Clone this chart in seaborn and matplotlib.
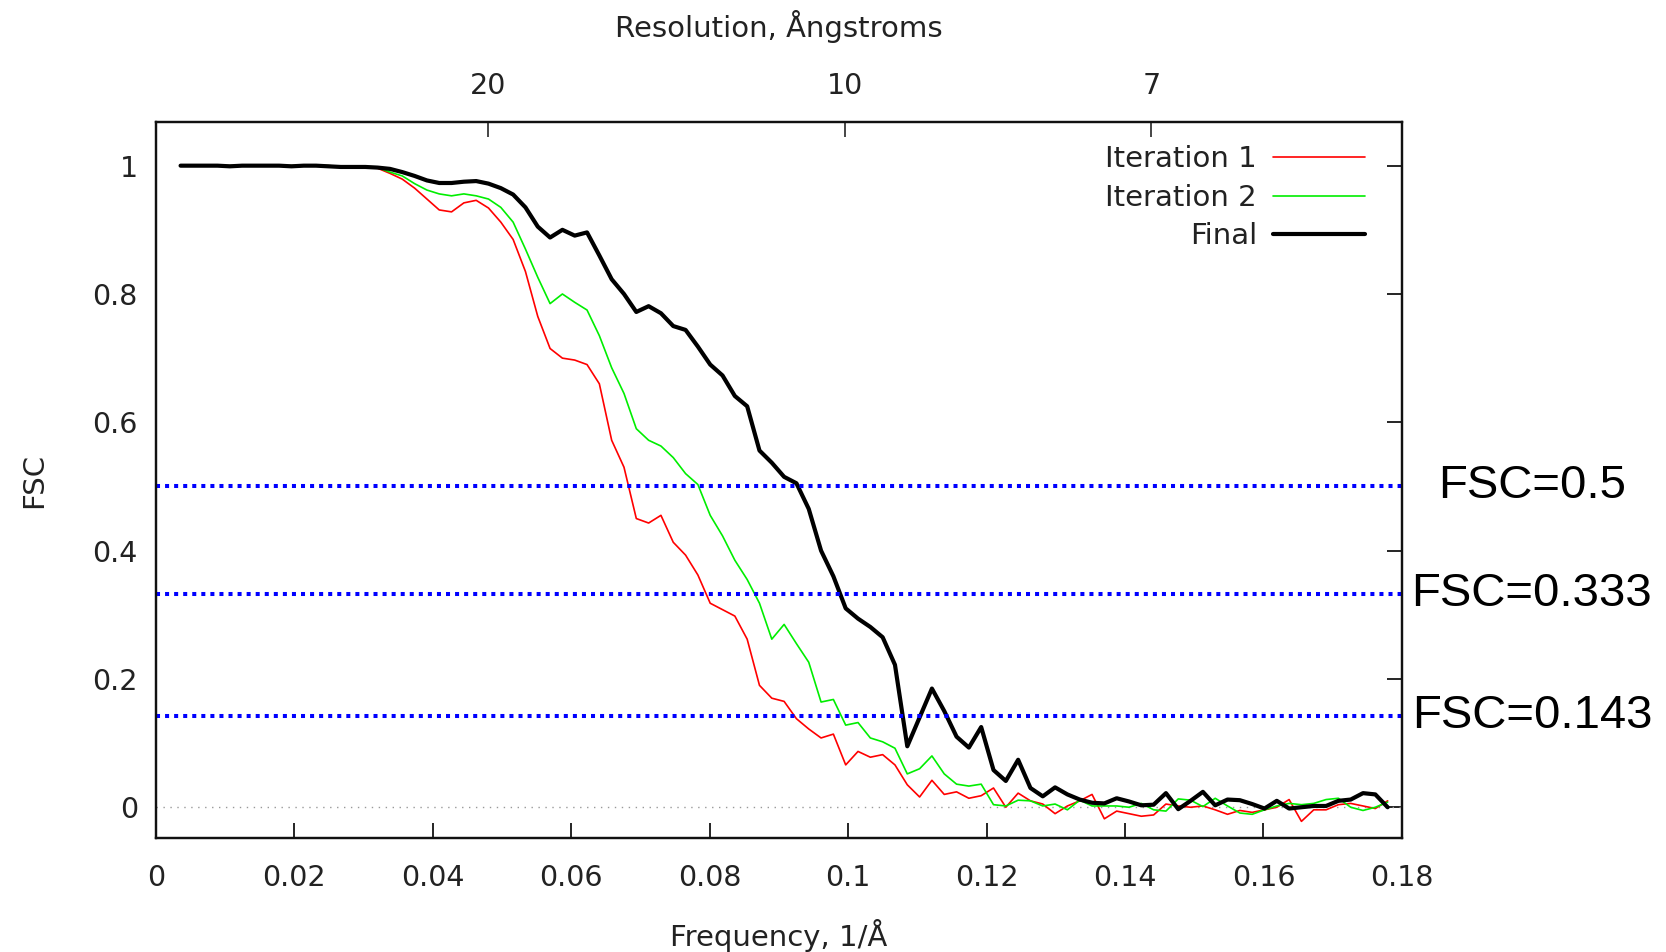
import numpy as np
import pandas as pd
import matplotlib
matplotlib.use("Agg")
import matplotlib.pyplot as plt
import matplotlib.transforms as mtransforms
import seaborn as sns

# Fourier shell correlation curves, sampled every 1/(200*2.81) 1/Å from shell 2 to shell 100
freq_step = 1.0 / 562.0
shells = np.arange(2, 101)
frequency = shells * freq_step

iteration_1 = [
    1.0, 1.0, 1.0, 1.0, 1.0, 1.0, 1.0, 1.0, 1.0, 1.0, 1.0, 1.0, 1.0, 0.999, 0.999, 0.998,
    0.996, 0.988, 0.979, 0.965, 0.948, 0.931, 0.928, 0.942, 0.946, 0.934, 0.912, 0.885,
    0.835, 0.765, 0.715, 0.700, 0.697, 0.690, 0.660, 0.572, 0.530, 0.450, 0.443, 0.455,
    0.413, 0.393, 0.362, 0.318, 0.308, 0.298, 0.262, 0.190, 0.170, 0.165, 0.138, 0.122,
    0.108, 0.114, 0.066, 0.087, 0.078, 0.082, 0.066, 0.035, 0.016, 0.042, 0.020, 0.024,
    0.014, 0.018, 0.030, 0.000, 0.022, 0.010, 0.005, -0.010, 0.002, 0.010, 0.020, -0.018,
    -0.006, -0.010, -0.014, -0.012, 0.005, 0.002, 0.000, 0.002, -0.004, -0.011, -0.005,
    -0.008, -0.004, 0.000, 0.012, -0.022, -0.004, -0.004, 0.004, 0.006, 0.002, -0.002, 0.010,
]

iteration_2 = [
    1.0, 1.0, 1.0, 1.0, 1.0, 1.0, 1.0, 1.0, 1.0, 1.0, 1.0, 1.0, 1.0, 0.999, 0.999, 0.999,
    0.997, 0.990, 0.984, 0.972, 0.962, 0.956, 0.953, 0.956, 0.953, 0.948, 0.935, 0.912,
    0.870, 0.826, 0.785, 0.800, 0.787, 0.775, 0.735, 0.685, 0.645, 0.590, 0.572, 0.563,
    0.545, 0.520, 0.503, 0.455, 0.423, 0.385, 0.355, 0.318, 0.262, 0.285, 0.255, 0.226,
    0.164, 0.168, 0.128, 0.132, 0.108, 0.102, 0.092, 0.052, 0.060, 0.080, 0.052, 0.036,
    0.033, 0.036, 0.004, 0.002, 0.011, 0.010, 0.002, 0.005, -0.004, 0.011, 0.002, 0.002,
    0.002, 0.000, 0.006, -0.004, -0.006, 0.013, 0.011, 0.001, 0.014, 0.002, -0.009, -0.011,
    -0.004, 0.002, 0.006, 0.004, 0.006, 0.012, 0.014, 0.000, -0.005, 0.000, 0.008,
]

final = [
    1.0, 1.0, 1.0, 1.0, 0.999, 1.0, 1.0, 1.0, 1.0, 0.999, 1.0, 1.0, 0.999, 0.998, 0.998, 0.998,
    0.997, 0.995, 0.990, 0.984, 0.977, 0.973, 0.973, 0.975, 0.976, 0.972, 0.965, 0.955,
    0.935, 0.905, 0.888, 0.900, 0.891, 0.896, 0.860, 0.823, 0.800, 0.772, 0.781, 0.770,
    0.750, 0.744, 0.718, 0.690, 0.673, 0.641, 0.625, 0.556, 0.537, 0.515, 0.505, 0.465,
    0.400, 0.360, 0.310, 0.294, 0.281, 0.265, 0.222, 0.095, 0.140, 0.185, 0.150, 0.110,
    0.093, 0.125, 0.058, 0.041, 0.074, 0.030, 0.017, 0.031, 0.020, 0.012, 0.007, 0.006,
    0.014, 0.009, 0.003, 0.004, 0.022, -0.003, 0.010, 0.024, 0.003, 0.012, 0.011, 0.005,
    -0.002, 0.010, -0.002, 0.000, 0.002, 0.002, 0.010, 0.012, 0.022, 0.020, 0.000,
]

series_names = ["Iteration 1", "Iteration 2", "Final"]
series_colors = {"Iteration 1": "#ff0000", "Iteration 2": "#00ee00", "Final": "#000000"}
series_widths = {"Iteration 1": 1.2, "Iteration 2": 1.2, "Final": 3.0}

thresholds = [0.5, 0.333, 0.143]
threshold_labels = ["FSC=0.5", "FSC=0.333", "FSC=0.143"]

x_ticks = [0, 0.02, 0.04, 0.06, 0.08, 0.1, 0.12, 0.14, 0.16, 0.18]
x_tick_labels = ["0", "0.02", "0.04", "0.06", "0.08", "0.1", "0.12", "0.14", "0.16", "0.18"]
y_ticks = [0, 0.2, 0.4, 0.6, 0.8, 1.0]
y_tick_labels = ["0", "0.2", "0.4", "0.6", "0.8", "1"]
resolution_ticks = [20, 10, 7]

df = pd.DataFrame({
    "frequency": np.tile(frequency, 3),
    "fsc": np.concatenate([iteration_1, iteration_2, final]),
    "series": np.repeat(series_names, len(frequency)),
})

sns.set_theme(style="white")
plt.rcParams["font.family"] = ["DejaVu Sans"]

TEXT = 21
TICK = 20.5

fig = plt.figure(figsize=(16.66, 9.52), dpi=100)
ax = fig.add_axes([0.0936, 0.1197, 0.7479, 0.7521])

# reference levels
ax.axhline(0, color="#999999", lw=1.0, ls=(0, (1, 4)), zorder=1)
for level in thresholds:
    ax.axhline(level, color="#0000ff", lw=2.9, ls=(0, (1, 1.25)),
               dash_capstyle="butt", zorder=5)

for name in series_names:
    sns.lineplot(data=df[df["series"] == name], x="frequency", y="fsc",
                 color=series_colors[name], linewidth=series_widths[name],
                 label=name, ax=ax, zorder=3 if name == "Final" else 2)

ax.set_xlim(0, 0.18)
ax.set_ylim(-0.048, 1.068)
ax.set_xticks(x_ticks)
ax.set_xticklabels(x_tick_labels)
ax.set_yticks(y_ticks)
ax.set_yticklabels(y_tick_labels)
ax.tick_params(axis="both", direction="in", length=11, width=1.2, labelsize=TICK,
               colors="#000000", labelcolor="#222222")
ax.tick_params(axis="y", right=True, pad=13)
ax.tick_params(axis="x", pad=19)
for spine in ax.spines.values():
    spine.set_linewidth(1.6)
    spine.set_color("#111111")

ax.set_xlabel("Frequency, 1/Å", fontsize=TEXT, color="#222222", labelpad=19)
ax.set_ylabel("FSC", fontsize=TEXT, color="#222222", labelpad=32)

# resolution scale along the top edge, spanning the sampled frequency range
top = ax.twiny()
top.set_xlim(frequency[0], frequency[-1])
top.set_xticks([1.0 / r for r in resolution_ticks])
top.set_xticklabels([str(r) for r in resolution_ticks])
top.tick_params(axis="x", direction="in", length=11, width=1.2, labelsize=TICK,
                labelcolor="#222222", pad=16)
top.set_xlabel("Resolution, Ångstroms", fontsize=TEXT, color="#222222", labelpad=25)
for spine in top.spines.values():
    spine.set_linewidth(1.6)
    spine.set_color("#111111")

leg = ax.legend(loc="upper right", bbox_to_anchor=(0.982, 0.988), frameon=False,
                markerfirst=False, fontsize=TEXT, handlelength=3.15, handletextpad=0.55,
                labelspacing=0.36, borderpad=0.0)
for text in leg.get_texts():
    text.set_color("#222222")

# threshold captions beside the plot
label_tf = mtransforms.blended_transform_factory(fig.transFigure, ax.transData)
for level, text in zip(thresholds, threshold_labels):
    fig.text(0.9195, level, text, transform=label_tf, ha="center", va="center",
             fontsize=34, family=["Liberation Sans", "DejaVu Sans"], color="#000000")

fig.savefig("out.png", dpi=100)
